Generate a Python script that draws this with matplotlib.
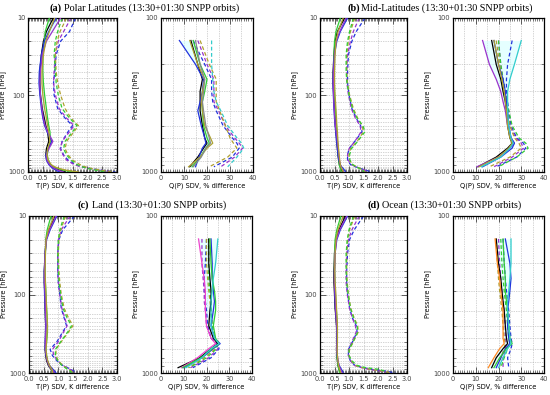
import matplotlib
matplotlib.use("Agg")
import matplotlib.pyplot as plt
from matplotlib.ticker import MultipleLocator, NullFormatter

# pressure levels (hPa)
T_LEVELS = [10, 15, 20, 30, 50, 70, 100, 150, 200, 250, 300, 400, 500, 600, 700, 800, 850, 900, 950, 1000]
Q_LEVELS = [140, 200, 250, 300, 350, 400, 500, 600, 650, 700, 800, 925]

# (a) polar latitudes
polar_t_solid = [
    [0.85, 0.62, 0.52, 0.45, 0.40, 0.40, 0.42, 0.48, 0.55, 0.60, 0.66, 0.70, 0.62, 0.60, 0.63, 0.72, 0.80, 0.92, 1.05, 1.25],
    [0.72, 0.58, 0.55, 0.50, 0.50, 0.52, 0.56, 0.62, 0.66, 0.70, 0.74, 0.76, 0.68, 0.65, 0.68, 0.76, 0.85, 1.00, 1.20, 1.55],
    [0.95, 0.70, 0.55, 0.45, 0.38, 0.37, 0.40, 0.45, 0.50, 0.56, 0.64, 0.80, 0.68, 0.60, 0.62, 0.70, 0.76, 0.84, 0.95, 1.05],
    [1.10, 0.82, 0.62, 0.48, 0.42, 0.40, 0.42, 0.47, 0.52, 0.58, 0.66, 0.84, 0.70, 0.62, 0.64, 0.72, 0.80, 0.90, 1.02, 1.20],
    [0.90, 0.72, 0.60, 0.52, 0.47, 0.47, 0.50, 0.56, 0.62, 0.66, 0.70, 0.74, 0.66, 0.64, 0.68, 0.78, 0.88, 1.05, 1.30, 1.70],
]
polar_t_dashed = [
    [1.60, 1.40, 1.10, 0.95, 0.90, 0.86, 0.88, 1.00, 1.25, 1.50, 1.35, 1.15, 1.10, 1.20, 1.35, 1.60, 1.80, 2.10, 2.50, 2.95],
    [1.45, 1.20, 1.02, 0.92, 0.88, 0.86, 0.92, 1.05, 1.30, 1.55, 1.40, 1.15, 1.08, 1.18, 1.30, 1.55, 1.75, 2.05, 2.45, 2.85],
    [1.30, 1.08, 0.98, 0.92, 0.95, 1.00, 1.10, 1.25, 1.45, 1.70, 1.55, 1.30, 1.25, 1.35, 1.50, 1.75, 1.90, 2.15, 2.50, 2.90],
    [1.15, 1.00, 0.92, 0.88, 0.92, 0.95, 1.02, 1.15, 1.40, 1.65, 1.50, 1.25, 1.20, 1.30, 1.45, 1.65, 1.80, 2.00, 2.30, 2.65],
]
polar_q_solid = [
    [13, 16, 18, 17, 17, 17, 18, 19, 20, 18.5, 16, 12.5],
    [14, 17, 20, 19, 18, 18, 18.5, 20, 21, 19.5, 17, 13.5],
    [8, 15, 18.5, 18, 17, 16, 17.5, 19, 19.5, 18, 16.5, 15],
    [12.5, 16, 19, 18, 17.5, 18, 19, 21.5, 22.5, 20, 17, 12],
    [15, 17, 19, 18.5, 18, 18.5, 19.5, 21, 21.5, 19.5, 17.5, 14],
]
polar_q_dashed = [
    [14, 19, 22, 22, 22.5, 24, 27, 31, 33, 34, 31, 23],
    [16, 20, 23, 23, 23, 25, 28, 32, 34, 35.5, 32, 26],
    [17, 21, 24, 24, 24, 25.5, 28, 30, 31.5, 33, 29, 21],
    [22, 22, 22.5, 23, 24, 26, 29, 33, 35, 36, 33, 29],
]

# (b) mid-latitudes
mid_t_solid = [
    [0.85, 0.60, 0.52, 0.48, 0.45, 0.45, 0.47, 0.50, 0.52, 0.53, 0.55, 0.58, 0.60, 0.62, 0.64, 0.67, 0.70, 0.72, 0.75, 0.78],
    [0.70, 0.55, 0.50, 0.48, 0.47, 0.48, 0.50, 0.53, 0.55, 0.57, 0.58, 0.60, 0.62, 0.63, 0.65, 0.66, 0.68, 0.70, 0.72, 0.74],
    [0.95, 0.70, 0.58, 0.50, 0.46, 0.45, 0.46, 0.48, 0.50, 0.52, 0.54, 0.57, 0.60, 0.62, 0.65, 0.70, 0.74, 0.80, 0.85, 0.88],
    [0.90, 0.68, 0.56, 0.50, 0.47, 0.46, 0.47, 0.49, 0.51, 0.53, 0.56, 0.60, 0.63, 0.65, 0.67, 0.70, 0.72, 0.75, 0.78, 0.82],
    [0.80, 0.62, 0.55, 0.52, 0.50, 0.50, 0.52, 0.55, 0.57, 0.58, 0.60, 0.62, 0.64, 0.66, 0.68, 0.70, 0.72, 0.75, 0.78, 0.80],
]
mid_t_dashed = [
    [1.55, 1.25, 1.10, 0.98, 0.95, 0.95, 1.00, 1.10, 1.25, 1.40, 1.45, 1.20, 1.00, 0.95, 0.95, 1.05, 1.20, 1.40, 1.60, 1.75],
    [1.35, 1.15, 1.05, 0.95, 0.92, 0.93, 0.98, 1.08, 1.22, 1.38, 1.42, 1.20, 1.00, 0.95, 0.97, 1.08, 1.22, 1.40, 1.55, 1.65],
    [1.20, 1.05, 0.98, 0.92, 0.92, 0.95, 1.02, 1.15, 1.30, 1.45, 1.50, 1.28, 1.05, 1.00, 1.02, 1.12, 1.25, 1.38, 1.50, 1.55],
    [1.15, 1.02, 0.95, 0.90, 0.90, 0.93, 1.00, 1.12, 1.28, 1.48, 1.55, 1.30, 1.08, 1.02, 1.03, 1.12, 1.24, 1.36, 1.48, 1.52],
]
mid_q_solid = [
    [17, 19, 21, 22, 23, 23.5, 24, 25, 26, 24, 19, 11],
    [13, 16, 19, 21, 22, 23, 24, 25.5, 27, 25, 20, 10.5],
    [18, 20, 22, 23, 23.5, 24, 24.5, 25.5, 27, 26, 21, 13],
    [18, 20, 21.5, 22.5, 23, 23.5, 24, 25, 26, 24.5, 20, 11.5],
    [30, 27, 25, 24, 24, 24, 24.5, 25.5, 26.5, 25, 21, 12.5],
]
mid_q_dashed = [
    [26, 24, 23.5, 23.5, 24, 24.5, 25.5, 28, 31, 32, 28, 19],
    [20, 21, 22, 23, 23.5, 24, 25, 27.5, 30, 31, 26, 18],
    [19, 20.5, 21.5, 22.5, 23, 24, 25, 27, 29, 30, 25, 16],
    [20, 21, 22, 23, 23.5, 24.5, 26, 29, 32, 33, 28, 20],
]

# (c) land
land_t_solid = [
    [0.90, 0.68, 0.58, 0.55, 0.52, 0.52, 0.54, 0.55, 0.56, 0.57, 0.57, 0.56, 0.55, 0.57, 0.60, 0.66, 0.70, 0.76, 0.82, 0.85],
    [0.75, 0.62, 0.57, 0.56, 0.55, 0.56, 0.58, 0.60, 0.62, 0.63, 0.63, 0.60, 0.58, 0.60, 0.63, 0.68, 0.72, 0.77, 0.80, 0.82],
    [0.95, 0.72, 0.60, 0.55, 0.52, 0.52, 0.53, 0.55, 0.56, 0.57, 0.56, 0.55, 0.55, 0.58, 0.63, 0.70, 0.76, 0.82, 0.88, 0.92],
    [0.92, 0.70, 0.59, 0.55, 0.53, 0.53, 0.55, 0.56, 0.57, 0.58, 0.57, 0.56, 0.56, 0.59, 0.62, 0.68, 0.72, 0.78, 0.83, 0.86],
    [0.85, 0.66, 0.58, 0.56, 0.55, 0.56, 0.58, 0.60, 0.62, 0.63, 0.62, 0.60, 0.58, 0.60, 0.64, 0.70, 0.74, 0.78, 0.80, 0.80],
]
land_t_dashed = [
    [1.55, 1.15, 1.02, 0.98, 0.98, 1.00, 1.05, 1.10, 1.20, 1.28, 1.15, 0.95, 0.72, 0.80, 0.95, 1.15, 1.30, 1.42, 1.55, 1.60],
    [1.40, 1.10, 1.00, 0.98, 0.98, 1.00, 1.05, 1.12, 1.22, 1.30, 1.18, 1.00, 0.80, 0.85, 0.98, 1.15, 1.28, 1.40, 1.50, 1.55],
    [1.25, 1.08, 1.02, 1.00, 1.02, 1.05, 1.10, 1.20, 1.35, 1.50, 1.35, 1.10, 0.92, 0.92, 1.00, 1.15, 1.25, 1.35, 1.45, 1.48],
    [1.20, 1.05, 1.00, 0.98, 1.00, 1.02, 1.08, 1.16, 1.30, 1.45, 1.32, 1.08, 0.90, 0.90, 0.98, 1.12, 1.22, 1.32, 1.42, 1.45],
]
land_q_solid = [
    [21, 21, 21.5, 22, 22, 21.5, 21, 23, 25, 22, 17, 7.5],
    [16.5, 18, 19, 19.5, 19.5, 19.5, 20, 22, 24, 21, 16, 9],
    [22, 22.5, 22.5, 23, 23.5, 23, 22, 23.5, 26, 23, 18, 10],
    [21.5, 22, 22.5, 23.5, 24, 24, 23, 24, 25.5, 22.5, 17.5, 9.5],
    [25, 24, 23, 22.5, 22, 22, 22, 23.5, 25.5, 22, 18, 11],
]
land_q_dashed = [
    [20, 19.5, 19, 19, 19.5, 20, 20.5, 22, 25, 25.5, 22, 14],
    [18, 18, 18.5, 19, 19, 19.5, 20, 22, 24.5, 25, 21, 13],
    [20, 20, 20.5, 21, 21.5, 22, 22.5, 23.5, 25, 24, 19, 12],
    [21, 21, 21, 21.5, 22, 22, 22.5, 23.5, 25, 24.5, 20, 12.5],
]

# (d) ocean
ocean_t_solid = [
    [0.88, 0.65, 0.55, 0.50, 0.48, 0.48, 0.50, 0.52, 0.55, 0.57, 0.58, 0.58, 0.57, 0.58, 0.60, 0.62, 0.64, 0.66, 0.68, 0.70],
    [0.72, 0.58, 0.52, 0.50, 0.50, 0.51, 0.53, 0.56, 0.58, 0.60, 0.60, 0.60, 0.58, 0.58, 0.60, 0.62, 0.63, 0.65, 0.66, 0.68],
    [0.95, 0.70, 0.58, 0.52, 0.50, 0.50, 0.51, 0.53, 0.56, 0.57, 0.58, 0.58, 0.57, 0.59, 0.62, 0.66, 0.70, 0.74, 0.78, 0.80],
    [0.92, 0.68, 0.57, 0.52, 0.50, 0.50, 0.52, 0.54, 0.56, 0.58, 0.59, 0.59, 0.58, 0.60, 0.62, 0.65, 0.68, 0.71, 0.74, 0.76],
    [0.80, 0.62, 0.55, 0.52, 0.51, 0.52, 0.55, 0.57, 0.59, 0.60, 0.60, 0.60, 0.59, 0.60, 0.62, 0.64, 0.66, 0.68, 0.70, 0.72],
]
ocean_t_dashed = [
    [1.50, 1.18, 1.02, 0.95, 0.92, 0.92, 0.95, 1.02, 1.12, 1.25, 1.28, 1.12, 0.98, 0.98, 1.05, 1.20, 1.45, 1.80, 2.30, 2.60],
    [1.35, 1.10, 0.98, 0.92, 0.90, 0.90, 0.94, 1.02, 1.12, 1.22, 1.25, 1.10, 0.98, 0.98, 1.05, 1.18, 1.40, 1.70, 2.10, 2.40],
    [1.20, 1.02, 0.95, 0.92, 0.92, 0.94, 0.98, 1.06, 1.18, 1.30, 1.32, 1.15, 1.02, 1.00, 1.08, 1.22, 1.42, 1.75, 2.20, 2.45],
    [1.15, 1.00, 0.94, 0.90, 0.90, 0.92, 0.97, 1.05, 1.16, 1.28, 1.30, 1.14, 1.00, 1.00, 1.10, 1.28, 1.55, 2.05, 2.25, 2.30],
]
ocean_q_solid = [
    [19, 20, 21, 21.5, 22, 22.5, 23, 23.5, 24, 22, 19, 17],
    [18.5, 19.5, 20.5, 21, 21.5, 22, 22, 22, 22.5, 20.5, 18, 15.5],
    [23, 25, 25.5, 25, 24.5, 24, 24, 24.5, 25, 23, 21, 19],
    [22, 22.5, 23, 23, 23.5, 24, 24.5, 25, 26, 23.5, 20.5, 18],
    [25.5, 25.5, 25, 24.5, 24, 24, 24.5, 25, 25.5, 24, 22, 20],
]
ocean_q_dashed = [
    [22, 22.5, 23, 23.5, 24, 24.5, 25, 25.5, 26, 25.5, 24, 24.5],
    [20, 20.5, 21, 21.5, 22, 22.5, 23, 23, 23.5, 23, 22, 22],
    [19, 19.5, 20, 20.5, 21, 21.5, 22, 22.5, 23, 22.5, 21, 20.5],
    [21, 21.5, 22, 22.5, 23, 23.5, 24, 24.5, 25, 24, 22.5, 21],
]

BLACK, GREEN, BLUE, PURPLE, OLIVE = "black", "#33cc33", "#2233dd", "#9933cc", "#b0a030"
CYAN, MAGENTA, ORANGE, GRAY = "#33cccc", "#ee44cc", "#ff8822", "#888888"
T_SOLID_COLORS = [BLACK, GREEN, BLUE, PURPLE, OLIVE]
T_DASH_COLORS = [BLUE, PURPLE, OLIVE, GREEN]

T_GRID = [15, 20, 30, 40, 50, 60, 70, 80, 100, 125, 150, 175, 200, 225, 250, 275, 300, 350, 400,
          450, 500, 550, 600, 650, 700, 750, 800, 850, 900]
Q_GRID = [200, 300, 400, 500, 600, 700, 850]

W, H = 550, 395
fig = plt.figure(figsize=(5.5, 3.95), dpi=100)


def box(left, right, top, bottom):
    return [left / W, 1 - bottom / H, (right - left) / W, (bottom - top) / H]


def style_axis(ax, kind):
    ax.set_yscale("log")
    if kind == "t":
        ax.set_xlim(0, 3)
        ax.set_ylim(1000, 10)
        ax.xaxis.set_major_locator(MultipleLocator(0.5))
        ax.xaxis.set_minor_locator(MultipleLocator(0.05))
        ax.set_xticks([0, 0.5, 1, 1.5, 2, 2.5, 3], ["0.0", "0.5", "1.0", "1.5", "2.0", "2.5", "3.0"])
        ax.set_yticks([10, 100, 1000], ["10", "100", "1000"])
        ax.set_xlabel("T(P) SDV, K difference", fontsize=4.8, labelpad=1)
        xgrid, ygrid = [0.5, 1.0, 1.5, 2.0, 2.5], T_GRID
    else:
        ax.set_xlim(0, 40)
        ax.set_ylim(1000, 100)
        ax.xaxis.set_major_locator(MultipleLocator(10))
        ax.xaxis.set_minor_locator(MultipleLocator(1))
        ax.set_yticks([100, 1000], ["100", "1000"])
        ax.set_xlabel("Q(P) SDV, % difference", fontsize=4.8, labelpad=1)
        xgrid, ygrid = [5, 10, 15, 20, 25, 30, 35], Q_GRID
    ax.yaxis.set_minor_formatter(NullFormatter())
    for x in xgrid:
        ax.axvline(x, color="#aaaaaa", lw=0.5, ls=(0, (1, 1.5)), zorder=0)
    for y in ygrid:
        ax.axhline(y, color="#aaaaaa", lw=0.5, ls=(0, (1, 1.5)), zorder=0)
    ax.set_ylabel("Pressure [hPa]", fontsize=4.8, labelpad=1.5)
    ax.tick_params(which="both", direction="in", top=True, right=True, labelsize=4.8,
                   colors="#444444", pad=2)
    ax.tick_params(which="major", length=4, width=0.6)
    ax.tick_params(which="minor", length=2.5, width=0.5)
    for s in ax.spines.values():
        s.set_linewidth(0.9)


def draw(ax, levels, solid, dashed, solid_colors, dash_colors, kind):
    lo = [min(v) for v in zip(*solid)]
    hi = [max(v) for v in zip(*solid)]
    ax.fill_betweenx(levels, lo, hi, color="#ccffff", alpha=0.5, lw=0, zorder=1)
    for vals, c in zip(dashed, dash_colors):
        ax.plot(vals, levels, color=c, lw=0.9, ls=(0, (3, 2)), zorder=2)
    for vals, c in zip(solid, solid_colors):
        ax.plot(vals, levels, color=c, lw=0.9, zorder=3)
    style_axis(ax, kind)


panels = [
    (box(28, 117, 18, 172), T_LEVELS, polar_t_solid, polar_t_dashed, "t", T_SOLID_COLORS, T_DASH_COLORS),
    (box(161, 253, 18, 172), Q_LEVELS, polar_q_solid, polar_q_dashed, "q",
     [BLACK, GREEN, BLUE, OLIVE, GRAY], [BLUE, PURPLE, OLIVE, CYAN]),
    (box(320, 407, 18, 172), T_LEVELS, mid_t_solid, mid_t_dashed, "t", T_SOLID_COLORS, T_DASH_COLORS),
    (box(453, 544, 18, 172), Q_LEVELS, mid_q_solid, mid_q_dashed, "q",
     [BLACK, PURPLE, BLUE, OLIVE, CYAN], [BLUE, PURPLE, OLIVE, GREEN]),
    (box(29, 117, 216, 373), T_LEVELS, land_t_solid, land_t_dashed, "t", T_SOLID_COLORS, T_DASH_COLORS),
    (box(161, 252, 216, 373), Q_LEVELS, land_q_solid, land_q_dashed, "q",
     [BLACK, MAGENTA, BLUE, GREEN, CYAN], [BLUE, PURPLE, OLIVE, GREEN]),
    (box(320, 407, 216, 373), T_LEVELS, ocean_t_solid, ocean_t_dashed, "t", T_SOLID_COLORS, T_DASH_COLORS),
    (box(453, 544, 216, 373), Q_LEVELS, ocean_q_solid, ocean_q_dashed, "q",
     [BLACK, ORANGE, BLUE, GREEN, CYAN], [BLUE, PURPLE, OLIVE, GREEN]),
]

for rect, levels, solid, dashed, kind, scol, dcol in panels:
    ax = fig.add_axes(rect)
    draw(ax, levels, solid, dashed, scol, dcol, kind)

titles = [
    (50, 8, "(a)", "Polar Latitudes (13:30+01:30 SNPP orbits)"),
    (347, 8, "(b)", "Mid-Latitudes (13:30+01:30 SNPP orbits)"),
    (78, 205, "(c)", "Land (13:30+01:30 SNPP orbits)"),
    (368, 205, "(d)", "Ocean (13:30+01:30 SNPP orbits)"),
]
for x, y, tag, text in titles:
    fig.text(x / W, 1 - y / H, tag, fontsize=7.3, fontweight="bold", family="Liberation Serif",
             ha="left", va="center")
    fig.text((x + 14) / W, 1 - y / H, text, fontsize=7.3, family="Liberation Serif",
             ha="left", va="center")

fig.savefig("out.png", dpi=100)
